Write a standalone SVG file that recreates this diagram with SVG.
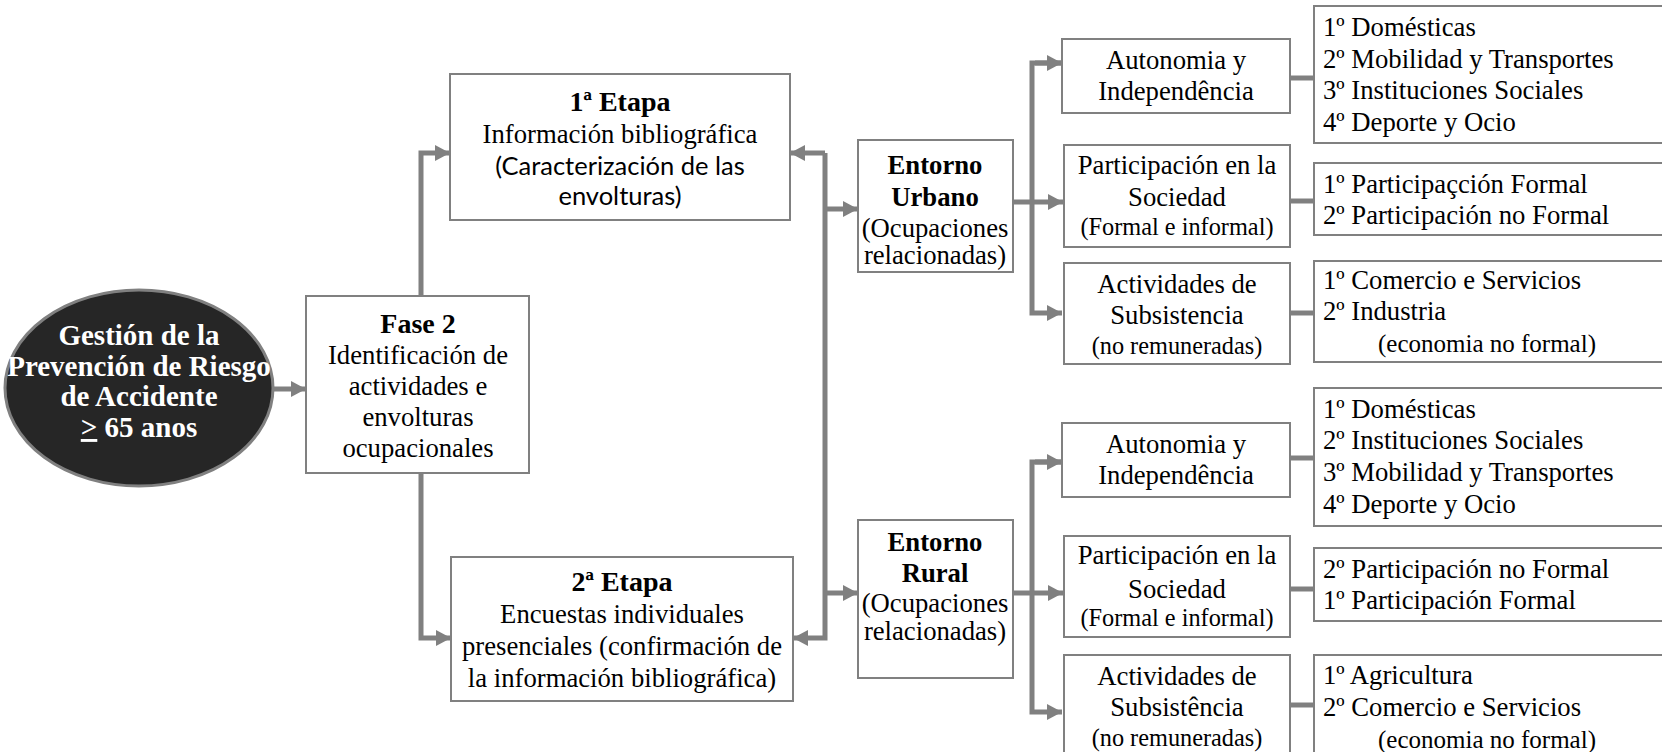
<svg xmlns="http://www.w3.org/2000/svg" width="1662" height="752" viewBox="0 0 1662 752">
<defs>
<style>
.box{fill:#ffffff;stroke:#808080;stroke-width:2}
.t{font-family:"Liberation Serif","Times New Roman",serif;font-size:26.7px;fill:#000;text-anchor:middle}
.l{font-family:"Liberation Serif","Times New Roman",serif;font-size:26.7px;fill:#000}
.b{font-weight:bold}
.h{font-weight:bold;font-size:28px}
.s{font-size:24.3px}
.e{font-size:25px}
.c{font-family:Lato,"Open Sans",sans-serif;font-size:25.5px}
.w{fill:#ffffff;font-weight:bold;font-size:29px}
.cn{fill:none;stroke:#808080;stroke-width:5}
</style>
<marker id="ah" markerUnits="userSpaceOnUse" markerWidth="16" markerHeight="16" viewBox="0 0 16 16" refX="15" refY="8" orient="auto">
<path d="M0,0 L15,8 L0,16 Z" fill="#808080"/>
</marker>
</defs>
<rect width="1662" height="752" fill="#ffffff"/>

<g id="connectors">
<line class="cn" x1="272" y1="389" x2="306" y2="389" marker-end="url(#ah)"/>
<polyline class="cn" points="421,296 421,153 450,153" marker-end="url(#ah)"/>
<polyline class="cn" points="421,473 421,638 451,638" marker-end="url(#ah)"/>
<polyline class="cn" points="825,153 825,638 793,638" marker-end="url(#ah)"/>
<line class="cn" x1="825" y1="153" x2="790" y2="153" marker-end="url(#ah)"/>
<line class="cn" x1="825" y1="209" x2="858" y2="209" marker-end="url(#ah)"/>
<line class="cn" x1="825" y1="593" x2="858" y2="593" marker-end="url(#ah)"/>
<line class="cn" x1="1013" y1="202" x2="1063" y2="202" marker-end="url(#ah)"/>
<polyline class="cn" points="1062,63 1032,63 1032,313 1062,313" marker-end="url(#ah)"/>
<line class="cn" x1="1035" y1="63" x2="1062" y2="63" marker-end="url(#ah)"/>
<line class="cn" x1="1013" y1="593" x2="1063" y2="593" marker-end="url(#ah)"/>
<polyline class="cn" points="1062,462 1032,462 1032,712 1062,712" marker-end="url(#ah)"/>
<line class="cn" x1="1035" y1="462" x2="1062" y2="462" marker-end="url(#ah)"/>
<line class="cn" x1="1290" y1="78" x2="1314" y2="78"/>
<line class="cn" x1="1290" y1="201" x2="1314" y2="201"/>
<line class="cn" x1="1290" y1="313" x2="1314" y2="313"/>
<line class="cn" x1="1290" y1="458" x2="1314" y2="458"/>
<line class="cn" x1="1290" y1="589" x2="1314" y2="589"/>
<line class="cn" x1="1290" y1="705" x2="1314" y2="705"/>
</g>

<g id="root">
<ellipse cx="139" cy="388" rx="134" ry="98" fill="#262626" stroke="#808080" stroke-width="3"/>
<text class="t w" x="139" y="345">Gestión de la</text>
<text class="t w" x="139" y="376">Prevención de Riesgo</text>
<text class="t w" x="139" y="406">de Accidente</text>
<text class="t w" x="139" y="437"><tspan text-decoration="underline">&gt;</tspan> 65 anos</text>
</g>

<g id="fase2">
<rect class="box" x="306" y="296" width="223" height="177"/>
<text class="t h" x="418" y="333">Fase 2</text>
<text class="t" x="418" y="364">Identificación de</text>
<text class="t" x="418" y="395">actividades  e</text>
<text class="t" x="418" y="426">envolturas</text>
<text class="t" x="418" y="457">ocupacionales</text>
</g>

<g id="etapa1">
<rect class="box" x="450" y="74" width="340" height="146"/>
<text class="t h" x="620" y="111">1ª Etapa</text>
<text class="t" x="620" y="143">Información bibliográfica</text>
<text class="t c" x="620" y="175">(Caracterización de las</text>
<text class="t c" x="620" y="205">envolturas)</text>
</g>

<g id="etapa2">
<rect class="box" x="451" y="557" width="342" height="144"/>
<text class="t h" x="622" y="591">2ª Etapa</text>
<text class="t" x="622" y="623">Encuestas individuales</text>
<text class="t" x="622" y="655">presenciales (confirmación de</text>
<text class="t" x="622" y="687">la información bibliográfica)</text>
</g>

<g id="urbano">
<rect class="box" x="858" y="140" width="155" height="132"/>
<text class="t b" x="935" y="174">Entorno</text>
<text class="t b" x="935" y="206">Urbano</text>
<text class="t" x="935" y="237">(Ocupaciones</text>
<text class="t" x="935" y="264">relacionadas)</text>
</g>

<g id="rural">
<rect class="box" x="858" y="520" width="155" height="158"/>
<text class="t b" x="935" y="551">Entorno</text>
<text class="t b" x="935" y="582">Rural</text>
<text class="t" x="935" y="612">(Ocupaciones</text>
<text class="t" x="935" y="640">relacionadas)</text>
</g>

<g id="u-autonomia">
<rect class="box" x="1062" y="39" width="228" height="74"/>
<text class="t" x="1176" y="69">Autonomia y</text>
<text class="t" x="1176" y="100">Independência</text>
</g>
<g id="u-participacion">
<rect class="box" x="1064" y="145" width="226" height="102"/>
<text class="t" x="1177" y="174">Participación en la</text>
<text class="t" x="1177" y="206">Sociedad</text>
<text class="t s" x="1177" y="235">(Formal e informal)</text>
</g>
<g id="u-actividades">
<rect class="box" x="1064" y="263" width="226" height="101"/>
<text class="t" x="1177" y="293">Actividades de</text>
<text class="t" x="1177" y="324">Subsistencia</text>
<text class="t s" x="1177" y="354">(no remuneradas)</text>
</g>

<g id="u-list1">
<rect class="box" x="1314" y="6" width="350" height="137"/>
<text class="l" x="1323" y="36">1º Domésticas</text>
<text class="l" x="1323" y="68">2º Mobilidad y Transportes</text>
<text class="l" x="1323" y="99">3º Instituciones Sociales</text>
<text class="l" x="1323" y="131">4º Deporte y Ocio</text>
</g>
<g id="u-list2">
<rect class="box" x="1314" y="163" width="350" height="72"/>
<text class="l" x="1323" y="193">1º Participaçción Formal</text>
<text class="l" x="1323" y="224">2º Participación no Formal</text>
</g>
<g id="u-list3">
<rect class="box" x="1314" y="261" width="350" height="101"/>
<text class="l" x="1323" y="289">1º Comercio e Servicios</text>
<text class="l" x="1323" y="320">2º Industria</text>
<text class="l e" x="1378" y="352">(economia no formal)</text>
</g>

<g id="r-autonomia">
<rect class="box" x="1062" y="423" width="228" height="74"/>
<text class="t" x="1176" y="453">Autonomia y</text>
<text class="t" x="1176" y="484">Independência</text>
</g>
<g id="r-participacion">
<rect class="box" x="1064" y="536" width="226" height="101"/>
<text class="t" x="1177" y="564">Participación en la</text>
<text class="t" x="1177" y="598">Sociedad</text>
<text class="t s" x="1177" y="626">(Formal e informal)</text>
</g>
<g id="r-actividades">
<rect class="box" x="1064" y="655" width="226" height="110"/>
<text class="t" x="1177" y="685">Actividades de</text>
<text class="t" x="1177" y="716">Subsistência</text>
<text class="t s" x="1177" y="746">(no remuneradas)</text>
</g>

<g id="r-list1">
<rect class="box" x="1314" y="388" width="350" height="138"/>
<text class="l" x="1323" y="418">1º Domésticas</text>
<text class="l" x="1323" y="449">2º Instituciones Sociales</text>
<text class="l" x="1323" y="481">3º Mobilidad y Transportes</text>
<text class="l" x="1323" y="513">4º Deporte y Ocio</text>
</g>
<g id="r-list2">
<rect class="box" x="1314" y="548" width="350" height="73"/>
<text class="l" x="1323" y="578">2º Participación no Formal</text>
<text class="l" x="1323" y="609">1º Participación Formal</text>
</g>
<g id="r-list3">
<rect class="box" x="1314" y="655" width="350" height="110"/>
<text class="l" x="1323" y="684">1º Agricultura</text>
<text class="l" x="1323" y="716">2º Comercio e Servicios</text>
<text class="l e" x="1378" y="748">(economia no formal)</text>
</g>
</svg>
